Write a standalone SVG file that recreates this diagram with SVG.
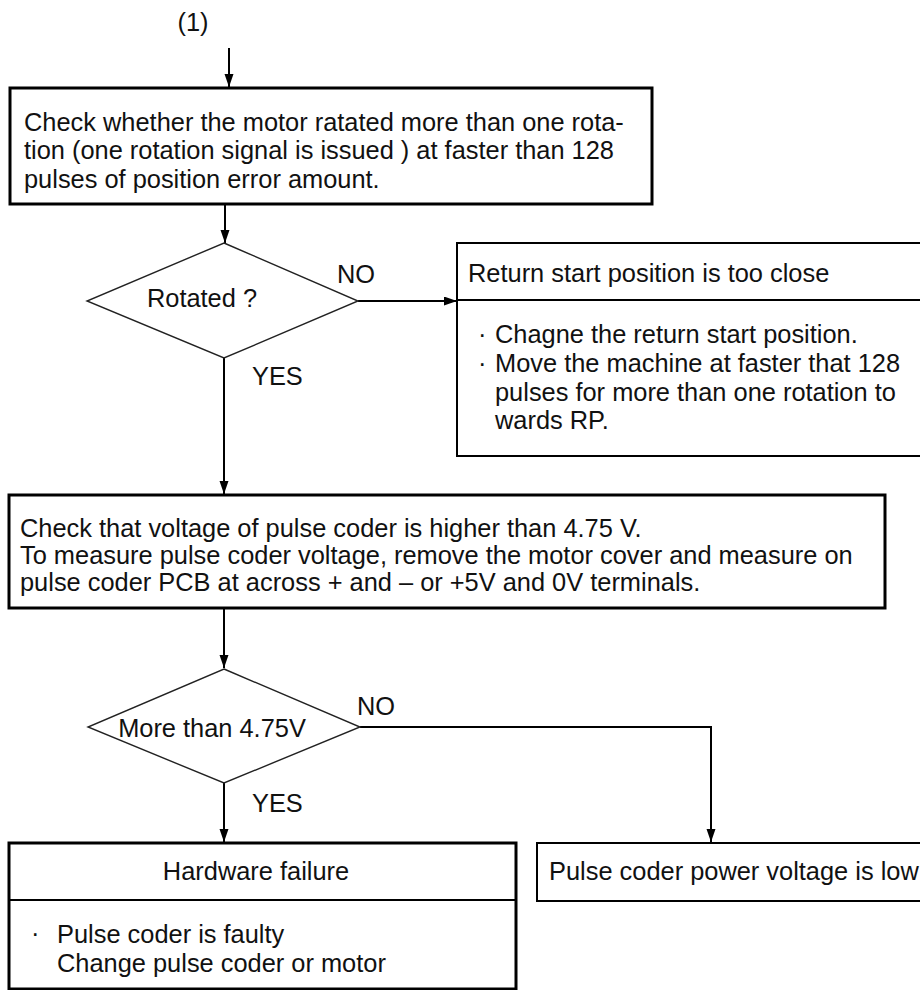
<svg xmlns="http://www.w3.org/2000/svg" width="920" height="990" viewBox="0 0 920 990">
<style>
  text { font-family: "Liberation Sans", Arial, sans-serif; font-size: 25.4px; fill: #111; }
  .thick { fill: #fff; stroke: #000; stroke-width: 3; }
  .thin { fill: #fff; stroke: #000; stroke-width: 2; }
  .dia { fill: #fff; stroke: #222; stroke-width: 1.4; }
  .div { stroke: #000; stroke-width: 2; }
  .conn { fill: none; stroke: #000; stroke-width: 2; }
  .mid { text-anchor: middle; }
</style>
<defs>
  <marker id="arr" markerUnits="userSpaceOnUse" markerWidth="14" markerHeight="10" refX="13" refY="4.5" orient="auto">
    <path d="M0,0 L13,4.5 L0,9 z" fill="#000"/>
  </marker>
</defs>
<rect width="920" height="990" fill="#fff"/>

<g id="start">
  <text x="193" y="31" class="mid">(1)</text>
</g>

<g id="connectors">
  <line class="conn" x1="229" y1="48" x2="229" y2="87" marker-end="url(#arr)"/>
  <line class="conn" x1="225" y1="205" x2="225" y2="243" marker-end="url(#arr)"/>
  <line class="conn" x1="358" y1="301" x2="457" y2="301" marker-end="url(#arr)"/>
  <line class="conn" x1="224" y1="358" x2="224" y2="494" marker-end="url(#arr)"/>
  <line class="conn" x1="224" y1="609" x2="224" y2="668" marker-end="url(#arr)"/>
  <polyline class="conn" points="360,727 711,727 711,842" marker-end="url(#arr)"/>
  <line class="conn" x1="224" y1="783" x2="224" y2="842" marker-end="url(#arr)"/>
  <text x="337" y="283">NO</text>
  <text x="252" y="385">YES</text>
  <text x="357" y="715">NO</text>
  <text x="252" y="812">YES</text>
</g>

<g id="check-rotation">
  <rect class="thick" x="10" y="88" width="642" height="116"/>
  <text x="24" y="131">Check whether the motor ratated more than one rota-</text>
  <text x="24" y="159">tion (one rotation signal is issued ) at faster than 128</text>
  <text x="24" y="188">pulses of position error amount.</text>
</g>

<g id="rotated">
  <polygon class="dia" points="224,243 358,301 224,358 87,301"/>
  <text x="202" y="307" class="mid">Rotated ?</text>
</g>

<g id="too-close">
  <rect class="thin" x="457" y="243" width="470" height="213"/>
  <line class="div" x1="457" y1="300" x2="927" y2="300"/>
  <text x="468" y="282">Return start position is too close</text>
  <text x="478" y="343">·</text>
  <text x="495" y="343">Chagne the return start position.</text>
  <text x="478" y="372">·</text>
  <text x="495" y="372">Move the machine at faster that 128</text>
  <text x="495" y="401">pulses for more than one rotation to</text>
  <text x="495" y="429">wards RP.</text>
</g>

<g id="check-voltage">
  <rect class="thick" x="9" y="495" width="876" height="113"/>
  <text x="20" y="537">Check that voltage of pulse coder is higher than 4.75 V.</text>
  <text x="20" y="564">To measure pulse coder voltage, remove the motor cover and measure on</text>
  <text x="20" y="591">pulse coder PCB at across + and – or +5V and 0V terminals.</text>
</g>

<g id="more-than">
  <polygon class="dia" points="224,669 360,727 224,783 88,727"/>
  <text x="212" y="737" class="mid">More than 4.75V</text>
</g>

<g id="hardware-failure">
  <rect class="thick" x="9" y="843" width="507" height="146"/>
  <line class="div" x1="9" y1="900" x2="516" y2="900"/>
  <text x="256" y="880" class="mid">Hardware failure</text>
  <text x="31" y="942">·</text>
  <text x="57" y="943">Pulse coder is faulty</text>
  <text x="57" y="972">Change pulse coder or motor</text>
</g>

<g id="voltage-low">
  <rect class="thin" x="537" y="843" width="390" height="58"/>
  <text x="549" y="880">Pulse coder power voltage is low</text>
</g>
</svg>
